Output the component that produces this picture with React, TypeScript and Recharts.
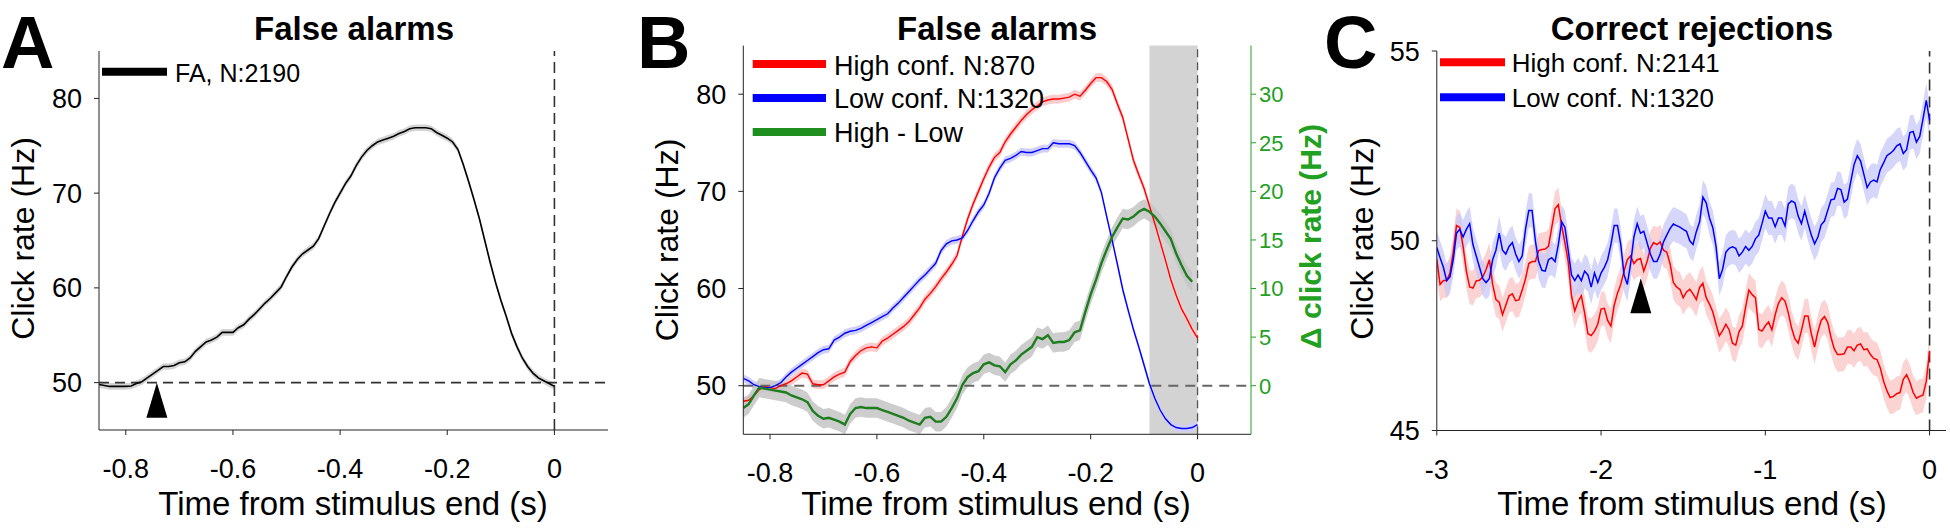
import React from 'react';
import {
  ComposedChart,
  Line,
  Area,
  XAxis,
  YAxis,
  ReferenceLine,
  ReferenceArea,
  ReferenceDot,
} from 'recharts';

const FONT = '"Liberation Sans", Arial, Helvetica, sans-serif';

// time from stimulus end (s), 10 ms bins, panels A and B
const timeFA = [
  -0.85, -0.84, -0.83, -0.82, -0.81, -0.8, -0.79, -0.78, -0.77, -0.76,
  -0.75, -0.74, -0.73, -0.72, -0.71, -0.7, -0.69, -0.68, -0.67, -0.66,
  -0.65, -0.64, -0.63, -0.62, -0.61, -0.6, -0.59, -0.58, -0.57, -0.56,
  -0.55, -0.54, -0.53, -0.52, -0.51, -0.5, -0.49, -0.48, -0.47, -0.46,
  -0.45, -0.44, -0.43, -0.42, -0.41, -0.4, -0.39, -0.38, -0.37, -0.36,
  -0.35, -0.34, -0.33, -0.32, -0.31, -0.3, -0.29, -0.28, -0.27, -0.26,
  -0.25, -0.24, -0.23, -0.22, -0.21, -0.2, -0.19, -0.18, -0.17, -0.16,
  -0.15, -0.14, -0.13, -0.12, -0.11, -0.1, -0.09, -0.08, -0.07, -0.06,
  -0.05, -0.04, -0.03, -0.02, -0.01, 0,
];

// A: all false alarms (Hz)
const faRate = [
  49.8, 49.7, 49.6, 49.6, 49.6, 49.6, 49.65, 49.9, 50.1, 50.5,
  50.9, 51.3, 51.7, 51.7, 51.8, 52.1, 52.2, 52.6, 53.3, 53.8,
  54.3, 54.5, 54.8, 55.3, 55.3, 55.3, 55.8, 56.1, 56.7, 57.2,
  57.8, 58.4, 58.9, 59.5, 60.1, 61.2, 62.2, 63.0, 63.6, 64.0,
  64.4, 65.2, 66.5, 67.8, 69.0, 70.0, 71.0, 71.8, 72.9, 73.8,
  74.5, 75.0, 75.4, 75.6, 75.8, 76.0, 76.3, 76.5, 76.8, 76.9,
  76.9, 76.9, 76.8, 76.4, 76.1, 75.8, 75.4, 74.6, 73.0, 71.2,
  69.3, 67.3, 65.0, 62.7, 60.6, 58.7, 57.0, 55.2, 53.8, 52.6,
  51.7, 51.0, 50.5, 50.2, 49.9, 49.6,
];
const faSem = 0.35;

// B: false alarms split by confidence (Hz), and the difference (Hz, right axis)
const faHigh = [
  48.4, 48.5, 49.0, 49.6, 49.9, 49.8, 49.7, 50.0, 50.2, 50.5,
  50.9, 51.3, 51.2, 50.2, 50.1, 50.1, 50.5, 50.9, 51.2, 51.4,
  52.5, 53.1, 53.6, 53.9, 54.0, 53.9, 54.6, 54.9, 55.3, 55.7,
  56.1, 56.6, 57.3, 58.0, 58.9, 59.5, 60.2, 61.0, 61.7, 62.5,
  63.4, 65.4, 67.2, 68.7, 70.0, 71.3, 72.5, 73.5, 74.0, 75.1,
  75.9, 76.6, 77.3, 77.9, 78.4, 78.8, 79.2, 79.4, 79.5, 79.5,
  79.6, 79.7, 80.0, 79.8, 80.4, 81.1, 81.7, 81.7, 81.3, 80.5,
  79.0, 77.6, 75.4, 73.2, 71.7, 70.3, 68.5, 66.7, 64.8, 62.9,
  60.9, 59.3, 57.9, 56.9, 55.8, 54.9,
];
const faLow = [
  50.75, 50.5, 50.1, 49.9, 49.8, 49.8, 50.0, 50.3, 50.9, 51.4,
  51.8, 52.2, 52.6, 53.0, 53.4, 53.7, 53.8, 54.7, 55.0, 55.4,
  55.6, 55.7, 55.9, 56.2, 56.5, 56.8, 57.1, 57.4, 58.0, 58.5,
  59.1, 59.7, 60.3, 60.9, 61.4, 62.0, 62.6, 63.9, 64.6, 64.9,
  65.0, 65.2, 66.0, 67.0, 67.9, 68.6, 69.8, 71.4, 72.4, 73.2,
  73.4, 73.7, 74.1, 74.0, 74.0, 74.2, 74.4, 74.4, 75.0, 74.9,
  74.9, 74.9, 74.7, 74.0, 73.1, 72.2, 71.4, 69.9, 67.4, 65.0,
  62.5, 59.9, 57.8, 55.8, 54.0, 52.1, 50.2, 48.7, 47.5, 46.6,
  46.0, 45.7, 45.6, 45.6, 45.7, 46.0,
];
const faDiff = [
  -2.3, -1.9, -1.0, -0.2, -0.3, -0.4, -0.5, -0.6, -0.7, -1.0,
  -1.2, -1.4, -1.7, -2.6, -3.1, -3.4, -3.3, -3.5, -3.7, -4.0,
  -2.9, -2.3, -2.2, -2.3, -2.3, -2.3, -2.5, -2.7, -2.9, -3.1,
  -3.3, -3.6, -3.8, -4.0, -3.3, -3.2, -3.7, -3.7, -3.2, -2.3,
  -1.3, 0.1, 0.9, 1.3, 1.5, 2.2, 2.4, 2.1, 2.0, 1.4,
  2.2, 2.6, 3.2, 3.6, 4.0, 5.0, 4.8, 5.2, 4.4, 4.5,
  4.5, 4.7, 5.5, 5.7, 7.6, 9.4, 10.9, 12.6, 14.0, 15.3,
  16.3, 17.2, 17.1, 17.4, 17.9, 18.2, 17.9, 17.4, 16.7, 15.9,
  15.1, 13.6, 12.4, 11.3, 10.7, null,
];
const faHighSem = 0.45;
const faLowSem = 0.4;
const faDiffSem = 1.0;

// C: correct rejections, 20 ms bins
const timeCR = [
  -3, -2.98, -2.96, -2.94, -2.92, -2.9, -2.88, -2.86, -2.84, -2.82,
  -2.8, -2.78, -2.76, -2.74, -2.72, -2.7, -2.68, -2.66, -2.64, -2.62,
  -2.6, -2.58, -2.56, -2.54, -2.52, -2.5, -2.48, -2.46, -2.44, -2.42,
  -2.4, -2.38, -2.36, -2.34, -2.32, -2.3, -2.28, -2.26, -2.24, -2.22,
  -2.2, -2.18, -2.16, -2.14, -2.12, -2.1, -2.08, -2.06, -2.04, -2.02,
  -2, -1.98, -1.96, -1.94, -1.92, -1.9, -1.88, -1.86, -1.84, -1.82,
  -1.8, -1.78, -1.76, -1.74, -1.72, -1.7, -1.68, -1.66, -1.64, -1.62,
  -1.6, -1.58, -1.56, -1.54, -1.52, -1.5, -1.48, -1.46, -1.44, -1.42,
  -1.4, -1.38, -1.36, -1.34, -1.32, -1.3, -1.28, -1.26, -1.24, -1.22,
  -1.2, -1.18, -1.16, -1.14, -1.12, -1.1, -1.08, -1.06, -1.04, -1.02,
  -1, -0.98, -0.96, -0.94, -0.92, -0.9, -0.88, -0.86, -0.84, -0.82,
  -0.8, -0.78, -0.76, -0.74, -0.72, -0.7, -0.68, -0.66, -0.64, -0.62,
  -0.6, -0.58, -0.56, -0.54, -0.52, -0.5, -0.48, -0.46, -0.44, -0.42,
  -0.4, -0.38, -0.36, -0.34, -0.32, -0.3, -0.28, -0.26, -0.24, -0.22,
  -0.2, -0.18, -0.16, -0.14, -0.12, -0.1, -0.08, -0.06, -0.04, -0.02,
  0,
];
const crHigh = [
  49.51, 48.85, 48.95, 48.95, 49.15, 49.7, 50.4, 50.35, 49.85, 49.2,
  48.78, 48.75, 48.94, 48.96, 49.05, 49.24, 49.5, 48.85, 48.45, 48.38,
  48.05, 48.3, 48.55, 48.6, 48.42, 48.44, 48.7, 49.0, 49.4, 49.45,
  49.45, 49.74, 49.77, 49.78, 49.85, 50.35, 50.85, 50.95, 50.4, 49.95,
  49.45, 48.55, 48.15, 48.4, 48.55, 48.1, 47.55, 47.5, 47.62, 47.8,
  48.2, 48.22, 47.9, 47.75, 48.3, 48.62, 48.85, 49.2, 49.5, 49.6,
  49.4, 49.5, 49.53, 49.2, 49.45, 49.8, 49.95, 49.9, 49.97, 49.75,
  49.7, 49.4, 48.9, 48.78, 48.72, 48.5, 48.65, 48.72, 48.6, 48.45,
  48.77, 48.88, 48.5, 48.33, 48.13, 47.8, 47.5, 47.63, 47.8, 47.65,
  47.3, 47.25, 47.6, 47.75, 48.25, 48.7, 48.58, 48.5, 47.66, 47.62,
  47.76, 47.86, 47.65, 48.05, 48.35, 48.5, 48.41, 48.1, 47.7, 47.42,
  47.3, 47.64, 48.02, 48.02, 47.55, 47.2, 47.6, 47.9, 48.0, 47.85,
  47.45, 47.15, 47.0, 47.0, 47.02, 47.2, 47.2, 47.1, 47.25, 47.28,
  47.13, 47.15, 47.0, 46.9, 46.87, 46.65, 46.3, 46.05, 45.87, 45.9,
  45.97, 46.0, 46.35, 46.47, 46.28, 46.0, 45.85, 45.9, 45.93, 46.3,
  47.1,
];
const crLow = [
  49.82, 49.55, 49.3, 48.95, 49.05, 49.5, 50.2, 50.3, 50.1, 50.3,
  50.45, 49.9, 49.6, 49.3, 49.0, 48.9, 49.0, 49.5, 49.75, 50.2,
  49.75, 49.65, 49.85, 49.95, 49.65, 49.45, 49.6, 50.3, 50.8, 50.8,
  50.0, 49.45, 49.22, 49.2, 49.5, 49.55, 49.45, 49.9, 50.5, 50.35,
  49.75, 49.1, 48.95, 49.1, 48.95, 49.2, 49.1, 48.78, 49.15, 48.9,
  49.15, 49.3, 49.5, 49.9, 50.4, 50.4, 49.9, 49.1, 48.85, 49.4,
  50.1, 50.45, 50.2, 50.25, 49.95, 49.65, 49.45, 49.45, 49.65, 49.97,
  50.15, 50.32, 50.44, 50.4, 50.36, 50.3, 50.25, 50.0, 49.9, 50.24,
  50.5, 51.15, 51.0, 50.6, 50.35, 49.85, 49.0, 49.25, 49.7, 49.8,
  49.84, 49.8, 49.6, 49.7, 49.85, 49.75, 49.85, 50.05, 50.15, 50.45,
  50.78, 50.6, 50.6, 50.37, 50.6, 50.6, 50.39, 50.97, 51.05, 51.0,
  50.65, 50.45, 50.78, 50.45, 50.15, 49.92, 50.1, 50.42, 50.52, 50.8,
  51.08, 51.1, 51.38, 51.35, 51.02, 51.1, 51.55, 52.0, 52.24, 52.1,
  51.75, 51.4, 51.55, 51.6, 51.55, 51.88, 52.05, 52.24, 52.3, 52.38,
  52.5, 52.55, 52.3, 52.4, 52.85, 52.88, 52.6, 52.75, 53.21, 53.7,
  53.17,
];
const crSem = 0.45;

const faTicks = [-0.8, -0.6, -0.4, -0.2, 0];
const rateTicks = [50, 60, 70, 80];
const diffTicks = [0, 5, 10, 15, 20, 25, 30];
const crTicks = [-3, -2, -1, 0];
const crRateTicks = [45, 50, 55];

const AXIS = '#222';
const GREEN_AXIS = '#22a022';
const GREEN_LINE = '#1e7d1e';
const tickStyle = { fontSize: 27, fill: '#000', fontFamily: FONT };

const band = (key: string, sem: number) => (d: any) =>
  d[key] == null ? null : [d[key] - sem, d[key] + sem];

const Arrowhead = (props: any) => {
  const { cx, cy } = props;
  if (cx == null || cy == null) return null;
  return <path d={`M${cx},${cy} L${cx - 10.5},${cy + 35} L${cx + 10.5},${cy + 35} Z`} fill="#000" />;
};

function PanelA() {
  const data = timeFA.map((t, i) => ({ t, fa: faRate[i] }));
  return (
    <ComposedChart width={650} height={528} data={data} margin={{ top: 51, right: 42, bottom: 8, left: 9 }}>
      <XAxis type="number" dataKey="t" domain={[-0.85, 0.1]} ticks={faTicks} allowDataOverflow interval={0}
        tick={tickStyle} tickSize={5} tickMargin={24} stroke={AXIS} height={90} />
      <YAxis type="number" domain={[45, 85]} ticks={rateTicks} allowDataOverflow interval={0}
        tick={tickStyle} tickSize={5} tickMargin={12} stroke={AXIS} width={90} />
      <ReferenceLine y={50} stroke="#333" strokeDasharray="10 6" strokeWidth={1.6} />
      <ReferenceLine x={0} stroke="#333" strokeDasharray="11 6" strokeWidth={1.6} />
      <Area dataKey={band('fa', faSem)} stroke="none" fill="#d4d4d4" fillOpacity={1}
        dot={false} activeDot={false} isAnimationActive={false} />
      <Line dataKey="fa" stroke="#000" strokeWidth={1.6} dot={false} activeDot={false} isAnimationActive={false} />
      <ReferenceDot x={-0.742} y={50} r={1} shape={Arrowhead} />
    </ComposedChart>
  );
}

function PanelB() {
  const data = timeFA.map((t, i) => ({ t, high: faHigh[i], low: faLow[i], diff: faDiff[i] }));
  return (
    <ComposedChart width={680} height={528} data={data} margin={{ top: 45.6, right: 19, bottom: 3.7, left: 13.3 }}>
      <XAxis type="number" dataKey="t" domain={[-0.85, 0.1]} ticks={faTicks} allowDataOverflow interval={0}
        tick={tickStyle} tickSize={5} tickMargin={24} stroke={AXIS} height={90} />
      <YAxis yAxisId="left" type="number" domain={[45, 85]} ticks={rateTicks} allowDataOverflow interval={0}
        tick={tickStyle} tickSize={5} tickMargin={12} stroke={AXIS} width={80} />
      <YAxis yAxisId="right" orientation="right" type="number" domain={[-5, 35]} ticks={diffTicks}
        allowDataOverflow interval={0} tick={{ fontSize: 22, fill: GREEN_AXIS, fontFamily: FONT }}
        tickSize={5} tickMargin={3} stroke={GREEN_AXIS} width={60} />
      <ReferenceArea yAxisId="left" x1={-0.09} x2={0} fill="#d3d3d3" fillOpacity={1} stroke="none" />
      <ReferenceLine yAxisId="left" y={50} stroke="#666" strokeDasharray="10 7" strokeWidth={2} />
      <ReferenceLine yAxisId="left" x={0} stroke="#555" strokeDasharray="8 5" strokeWidth={1.3} />
      <Area yAxisId="left" dataKey={band('high', faHighSem)} stroke="none" fill="#fbcaca" fillOpacity={1}
        dot={false} activeDot={false} isAnimationActive={false} />
      <Area yAxisId="left" dataKey={band('low', faLowSem)} stroke="none" fill="#cfcff9" fillOpacity={1}
        dot={false} activeDot={false} isAnimationActive={false} />
      <Area yAxisId="right" dataKey={band('diff', faDiffSem)} stroke="none" fill="#c4c4c4" fillOpacity={0.85}
        dot={false} activeDot={false} isAnimationActive={false} />
      <Line yAxisId="left" dataKey="high" stroke="#ff0000" strokeWidth={1.4} dot={false} activeDot={false} isAnimationActive={false} />
      <Line yAxisId="left" dataKey="low" stroke="#0000ff" strokeWidth={1.4} dot={false} activeDot={false} isAnimationActive={false} />
      <Line yAxisId="right" dataKey="diff" stroke={GREEN_LINE} strokeWidth={2.4} dot={false} activeDot={false} isAnimationActive={false} />
    </ComposedChart>
  );
}

function PanelC() {
  const data = timeCR.map((t, i) => ({ t, high: crHigh[i], low: crLow[i] }));
  return (
    <ComposedChart width={650} height={528} data={data} margin={{ top: 51, right: 4, bottom: 7.5, left: 46.8 }}>
      <XAxis type="number" dataKey="t" domain={[-3, 0.1]} ticks={crTicks} allowDataOverflow interval={0}
        tick={tickStyle} tickSize={5} tickMargin={24} stroke={AXIS} height={90} />
      <YAxis type="number" domain={[45, 55]} ticks={crRateTicks} allowDataOverflow interval={0}
        tick={tickStyle} tickSize={5} tickMargin={12} stroke={AXIS} width={90} />
      <ReferenceLine x={0} stroke="#333" strokeDasharray="11 6" strokeWidth={1.6} />
      <Area dataKey={band('high', crSem)} stroke="none" fill="#fbc4c4" fillOpacity={0.75}
        dot={false} activeDot={false} isAnimationActive={false} />
      <Area dataKey={band('low', crSem)} stroke="none" fill="#c8c8f8" fillOpacity={0.75}
        dot={false} activeDot={false} isAnimationActive={false} />
      <Line dataKey="high" stroke="#ff0000" strokeWidth={1.5} dot={false} activeDot={false} isAnimationActive={false} />
      <Line dataKey="low" stroke="#0000ff" strokeWidth={1.5} dot={false} activeDot={false} isAnimationActive={false} />
      <ReferenceDot x={-1.758} y={49.01} r={1} shape={Arrowhead} />
    </ComposedChart>
  );
}

const LegendRow = ({ x1, x2, y, color, tx, ty, size, label }: any) => (
  <g>
    <line x1={x1} x2={x2} y1={y} y2={y} stroke={color} strokeWidth={8} />
    <text x={tx} y={ty} fontSize={size} fill="#000" fontFamily={FONT}>{label}</text>
  </g>
);

export default function App() {
  return (
    <div style={{ position: 'absolute', left: 0, top: 0, width: 1950, height: 528, background: '#fff', overflow: 'hidden' }}>
      <div style={{ position: 'absolute', left: 0, top: 0 }}><PanelA /></div>
      <div style={{ position: 'absolute', left: 650, top: 0 }}><PanelB /></div>
      <div style={{ position: 'absolute', left: 1300, top: 0 }}><PanelC /></div>
      <svg width={1950} height={528} style={{ position: 'absolute', left: 0, top: 0, pointerEvents: 'none' }}>
        <g fontFamily={FONT} fill="#000">
          <text x={1} y={67.5} fontSize={74} fontWeight="bold">A</text>
          <text x={637} y={67.5} fontSize={74} fontWeight="bold">B</text>
          <text x={1324} y={67.5} fontSize={74} fontWeight="bold">C</text>

          <text x={354} y={39.5} fontSize={33} fontWeight="bold" textAnchor="middle">False alarms</text>
          <text x={997} y={39.5} fontSize={33} fontWeight="bold" textAnchor="middle">False alarms</text>
          <text x={1692} y={39.5} fontSize={33} fontWeight="bold" textAnchor="middle">Correct rejections</text>

          <text x={353} y={515} fontSize={33} textAnchor="middle">Time from stimulus end (s)</text>
          <text x={996} y={515} fontSize={33} textAnchor="middle">Time from stimulus end (s)</text>
          <text x={1692} y={515} fontSize={33} textAnchor="middle">Time from stimulus end (s)</text>

          <text transform="translate(34,238.5) rotate(-90)" fontSize={32} textAnchor="middle">Click rate (Hz)</text>
          <text transform="translate(678,240) rotate(-90)" fontSize={32} textAnchor="middle">Click rate (Hz)</text>
          <text transform="translate(1372.5,238.5) rotate(-90)" fontSize={32} textAnchor="middle">Click rate (Hz)</text>
          <text transform="translate(1321,236.5) rotate(-90)" fontSize={30} fontWeight="bold" textAnchor="middle" fill={GREEN_AXIS}>
            Δ click rate (Hz)
          </text>
        </g>

        <LegendRow x1={102} x2={167} y={71.7} color="#000" tx={175} ty={81.7} size={25} label="FA, N:2190" />

        <LegendRow x1={752.7} x2={826} y={64} color="#ff0000" tx={834} ty={74.6} size={27} label="High conf. N:870" />
        <LegendRow x1={752.7} x2={826} y={98} color="#0000ff" tx={834} ty={108.3} size={27} label="Low conf. N:1320" />
        <LegendRow x1={752.7} x2={826} y={132} color="#1f8f1f" tx={834} ty={141.5} size={27} label="High - Low" />

        <LegendRow x1={1440} x2={1505} y={62.3} color="#ff0000" tx={1511.7} ty={71.7} size={26} label="High conf. N:2141" />
        <LegendRow x1={1440} x2={1505} y={97.3} color="#0000ff" tx={1511.7} ty={106.7} size={26} label="Low conf. N:1320" />
      </svg>
    </div>
  );
}
